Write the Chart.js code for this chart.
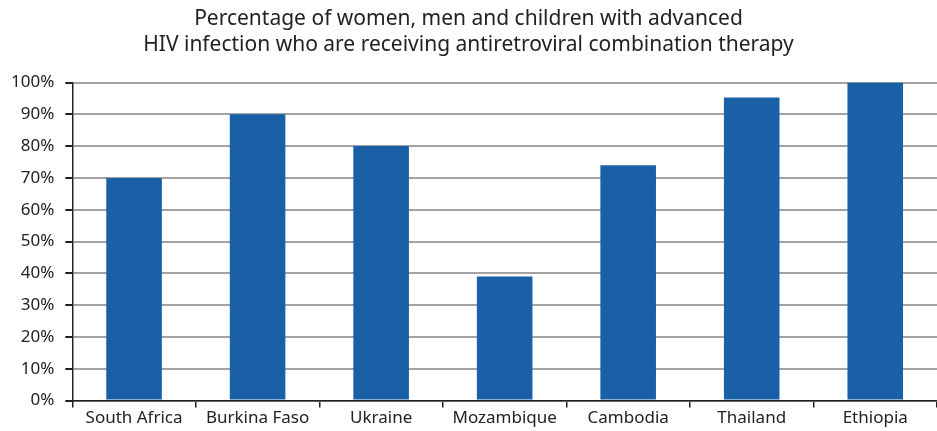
<!DOCTYPE html>
<html>
<head>
<meta charset="utf-8">
<script src="https://cdn.jsdelivr.net/npm/chart.js@4"></script>
<style>
html,body{margin:0;padding:0;background:#fff;}
#wrap{width:937px;height:431px;position:relative;}
</style>
</head>
<body>
<div id="wrap"><canvas id="c" width="937" height="431"></canvas></div>
<script>
const categories = ["South Africa", "Burkina Faso", "Ukraine", "Mozambique", "Cambodia", "Thailand", "Ethiopia"];
const values = [70, 90, 80, 39, 74, 95.3, 100];
const titleLines = ["Percentage of women, men and children with advanced", "HIV infection who are receiving antiretroviral combination therapy"];

new Chart(document.getElementById('c'), {
  type: 'bar',
  data: {
    labels: categories,
    datasets: [{
      data: values,
      backgroundColor: '#1A60A7',
      borderWidth: 0,
      barPercentage: 0.45,
      categoryPercentage: 1.0
    }]
  },
  options: {
    responsive: false,
    animation: false,
    layout: { padding: { left: 0, right: 0, top: 0, bottom: 3 } },
    plugins: {
      legend: { display: false },
      tooltip: { enabled: false },
      title: {
        display: true,
        text: titleLines,
        color: '#222',
        font: { family: 'Noto Sans', size: 21, weight: 'normal', lineHeight: 1.25 },
        padding: { top: 6, bottom: 24 }
      }
    },
    scales: {
      x: {
        grid: { display: true, drawOnChartArea: false, drawTicks: true, tickLength: 7, tickColor: '#222', offset: true, lineWidth: 1.5 },
        border: { display: true, color: '#222', width: 1.5 },
        ticks: { color: '#222', font: { family: 'Noto Sans', size: 17 }, padding: 0, maxRotation: 0 }
      },
      y: {
        min: 0, max: 100,
        grid: { color: '#a3a3a3', lineWidth: 2, tickColor: '#222', tickLength: 7 },
        border: { display: true, color: '#222', width: 1.5 },
        ticks: { stepSize: 10, color: '#222', font: { family: 'Noto Sans', size: 17 }, padding: 11, callback: v => v + '%' }
      }
    }
  }
});
</script>
</body>
</html>
